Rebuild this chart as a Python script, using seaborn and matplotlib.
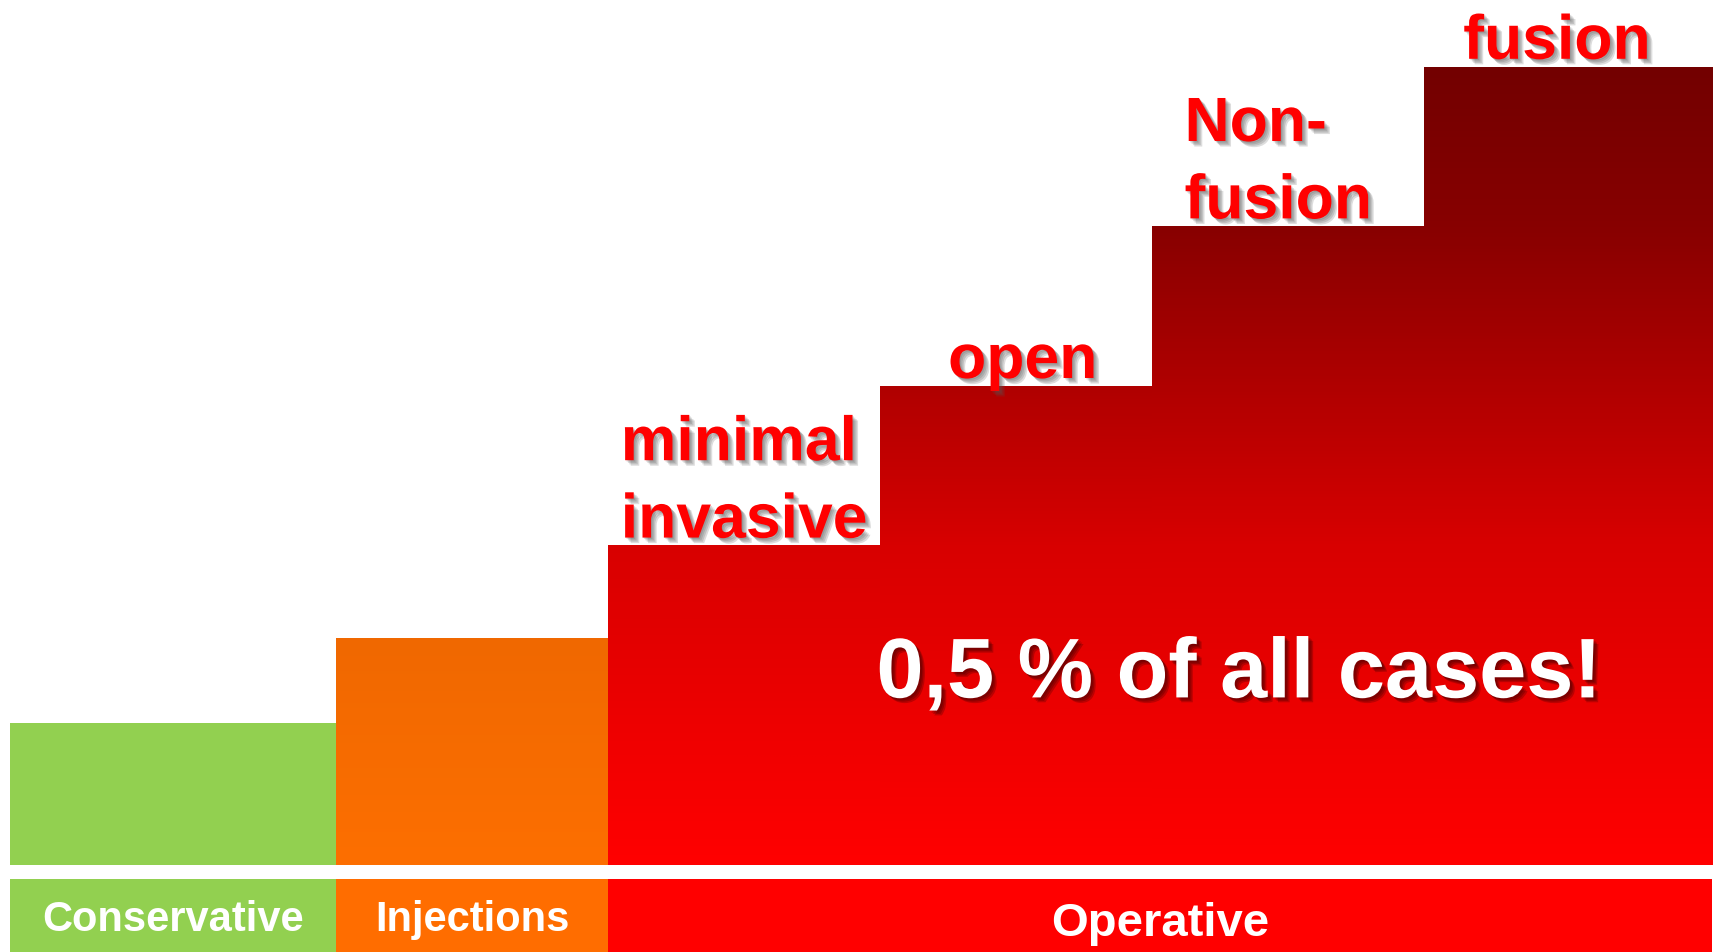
import numpy as np
import pandas as pd
import matplotlib.pyplot as plt
import matplotlib.patheffects as pe
from matplotlib.colors import LinearSegmentedColormap
import seaborn as sns

# steps of the treatment ladder (height in step units, relative width)
steps = ["Conservative", "Injections", "minimal invasive", "open", "Non-fusion", "fusion"]
step_heights = [0.89, 1.42, 2.0, 3.0, 4.0, 5.0]
step_widths = [1.2, 1.0, 1.0, 1.0, 1.0, 1.06]
step_labels = ["", "", "minimal\ninvasive", "open", "Non-\nfusion", "fusion"]
label_dx = [0, 0, 0, 0.025, -0.035, -0.04]

# bottom band
groups = ["Conservative", "Injections", "Operative"]
group_widths = [1.2, 1.0, 4.06]
group_colors = ["#92d050", "#ff6d00", "#ff0000"]
group_font = [30, 30, 34]
group_base = [0.29, 0.29, 0.22]

note = "0,5 % of all cases!"
note_pos = (4.52, 1.05)

sns.set_theme(style="white")
plt.rcParams["font.family"] = ["Liberation Sans", "DejaVu Sans"]

W, H = 1717, 952
fig = plt.figure(figsize=(W / 100, H / 100), dpi=100)

edges = np.concatenate([[0], np.cumsum(step_widths)])
centers = (edges[:-1] + edges[1:]) / 2
total = edges[-1]
df = pd.DataFrame({"step": steps, "center": centers, "height": step_heights})

# main stair axes
ax = fig.add_axes([10 / W, 87 / H, 1702 / W, 798 / H])
sns.histplot(data=df, x="center", weights="height", bins=list(edges), ax=ax,
             linewidth=0, alpha=1, color=group_colors[0])

red_cmap = LinearSegmentedColormap.from_list(
    "op", [(0, "#ff0000"), (0.4, "#d80000"), (0.6, "#b00000"),
           (0.8, "#880000"), (1.0, "#730000")])
orange_cmap = LinearSegmentedColormap.from_list("inj", ["#fd6f00", "#f06800"])

for i, patch in enumerate(ax.patches):
    x0, x1 = edges[i], edges[i + 1]
    h = step_heights[i]
    if i == 0:
        patch.set_facecolor(group_colors[0])
        continue
    patch.set_alpha(0)
    grad = np.linspace(0, h, 200).reshape(-1, 1)
    if i == 1:
        ax.imshow(grad, cmap=orange_cmap, vmin=0, vmax=h, origin="lower",
                  extent=(x0, x1, 0, h), aspect="auto", interpolation="bilinear")
    else:
        ax.imshow(grad, cmap=red_cmap, vmin=0, vmax=max(step_heights), origin="lower",
                  extent=(x0, x1, 0, h), aspect="auto", interpolation="bilinear")

red_fx = [pe.SimplePatchShadow(offset=(o, -o), shadow_rgbFace="#555555", alpha=0.2)
          for o in (1.0, 2.0, 3.0, 4.0)] + [pe.Normal()]
for i, lab in enumerate(step_labels):
    if not lab:
        continue
    ax.text(centers[i] + label_dx[i], step_heights[i] - 0.03, lab, ha="center",
            va="bottom", multialignment="left", linespacing=1.4, fontsize=45,
            fontweight="bold", color="#ff0000", path_effects=red_fx,
            clip_on=False, zorder=5)

note_fx = [pe.SimplePatchShadow(offset=(o, -o), shadow_rgbFace="#300000", alpha=0.25)
           for o in (1.5, 2.5, 3.5)] + [pe.Normal()]
ax.text(note_pos[0], note_pos[1], note, ha="center", va="baseline", fontsize=61,
        fontweight="bold", color="white", path_effects=note_fx, zorder=5)

ax.set_xlim(0, total)
ax.set_ylim(0, max(step_heights))
ax.axis("off")

# bottom band with the three groups
ax2 = fig.add_axes([10 / W, 0, 1702 / W, 73 / H])
lefts = np.concatenate([[0], np.cumsum(group_widths)[:-1]])
ax2.barh(0.5, group_widths, left=lefts, height=1, color=group_colors, linewidth=0)
for g, l, w, fs, yb in zip(groups, lefts, group_widths, group_font, group_base):
    ax2.text(l + w / 2, yb, g, ha="center", va="baseline", fontsize=fs,
             fontweight="bold", color="white")
ax2.set_xlim(0, total)
ax2.set_ylim(0, 1)
ax2.axis("off")

fig.savefig("out.png", dpi=100, facecolor="white")
